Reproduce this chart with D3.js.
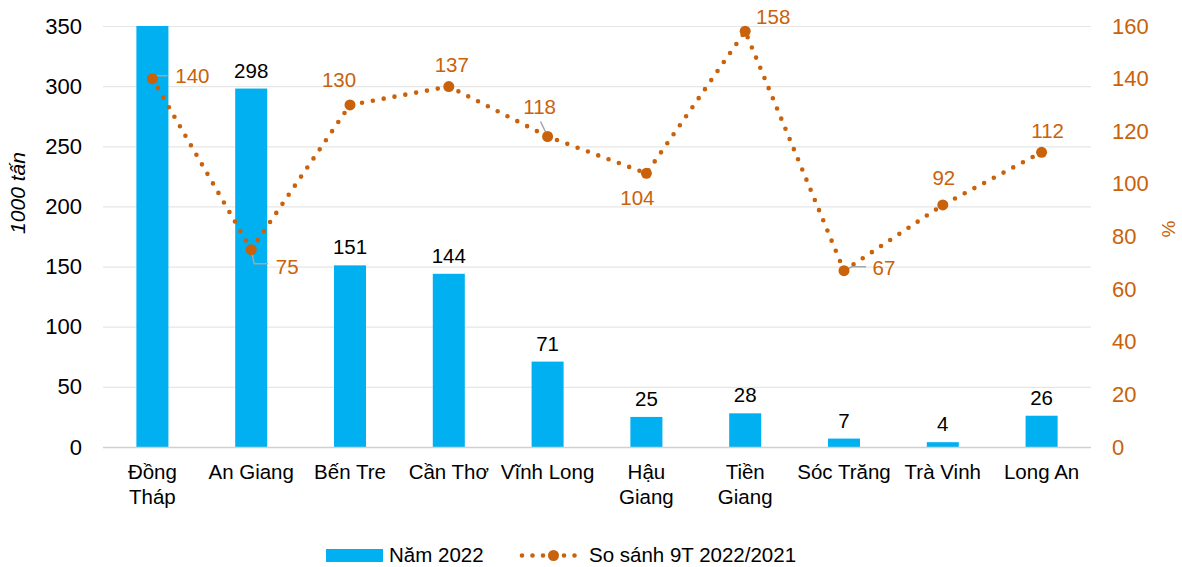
<!DOCTYPE html>
<html><head><meta charset="utf-8">
<script src="https://cdn.jsdelivr.net/npm/d3@7"></script>
<style>body{margin:0;background:#fff;font-family:Arial,"Liberation Sans",sans-serif;}</style>
</head><body><svg id="c" width="1182" height="567"></svg>
<script>
const categories = ["Đồng Tháp","An Giang","Bến Tre","Cần Thơ","Vĩnh Long","Hậu Giang","Tiền Giang","Sóc Trăng","Trà Vinh","Long An"];
const production2022 = [352,298,151,144,71,25,28,7,4,26];
const comparePct = [140,75,130,137,118,104,158,67,92,112];
const leftTicks = [0,50,100,150,200,250,300,350];
const rightTicks = [0,20,40,60,80,100,120,140,160];

// label placement offsets from the marker (style only)
const lineLabelPos = [
  {dx:40,dy:-3,leader:[[0,0],[0,-3],[15,-3]]},
  {dx:36,dy:17,leader:[[0,0],[3,14],[17,14]]},
  {dx:-11,dy:-25},
  {dx:3,dy:-22},
  {dx:-8,dy:-30,leader:[[0,0],[-7,-15]]},
  {dx:-9,dy:24},
  {dx:28,dy:-15},
  {dx:40,dy:-3,leader:[[0,0],[8,-4],[22,-4]]},
  {dx:1,dy:-27},
  {dx:6,dy:-22}
];

const BLUE="#00B0F0", ORANGE="#C9620A";
const FONT="Arial,'Liberation Sans',sans-serif";
const svg=d3.select("#c").attr("font-family",FONT);
const m={l:103,r:1091,t:26,b:447};
const x=d3.scaleBand().domain(categories).range([m.l,m.r]).paddingInner(0.676).paddingOuter(0.338);
const y=d3.scaleLinear().domain([0,350]).range([m.b,m.t]);
const y2=d3.scaleLinear().domain([0,160]).range([m.b,m.t]);

// gridlines
svg.append("g").selectAll("line").data(leftTicks.slice(1)).join("line")
 .attr("x1",m.l).attr("x2",m.r).attr("y1",d=>y(d)+0.5).attr("y2",d=>y(d)+0.5)
 .attr("stroke","#e6e6e6").attr("stroke-width",1.2);

// left axis
const ga=svg.append("g").attr("transform",`translate(${m.l},0)`)
 .call(d3.axisLeft(y).tickValues(leftTicks).tickSize(0).tickPadding(21));
ga.select(".domain").remove();
ga.selectAll("text").attr("font-size",22).attr("fill","#000").attr("font-family",FONT);

// right axis
const gr=svg.append("g").attr("transform",`translate(${m.r},0)`)
 .call(d3.axisRight(y2).tickValues(rightTicks).tickSize(0).tickPadding(21));
gr.select(".domain").remove();
gr.selectAll("text").attr("font-size",22).attr("fill",ORANGE).attr("font-family",FONT);

// bars
svg.append("g").selectAll("rect").data(categories).join("rect")
 .attr("x",d=>x(d)).attr("width",x.bandwidth())
 .attr("y",(d,i)=>y(Math.min(production2022[i],350)))
 .attr("height",(d,i)=>m.b-y(Math.min(production2022[i],350)))
 .attr("fill",BLUE);

// bar labels (values beyond the axis max are not labelled)
svg.append("g").selectAll("text").data(categories).join("text")
 .filter((d,i)=>production2022[i]<=350)
 .attr("x",d=>x(d)+x.bandwidth()/2)
 .attr("y",d=>y(production2022[categories.indexOf(d)])-11)
 .attr("text-anchor","middle").attr("font-size",20.5).attr("fill","#000")
 .text(d=>production2022[categories.indexOf(d)]);

// bottom axis line
svg.append("line").attr("x1",m.l).attr("x2",m.r).attr("y1",m.b+0.5).attr("y2",m.b+0.5)
 .attr("stroke","#d0d0d0").attr("stroke-width",1.5);

// category labels
const wrapMap={"Đồng Tháp":["Đồng","Tháp"],"Hậu Giang":["Hậu","Giang"],"Tiền Giang":["Tiền","Giang"]};
const cl=svg.append("g").selectAll("text").data(categories).join("text")
 .attr("x",d=>x(d)+x.bandwidth()/2).attr("y",479)
 .attr("text-anchor","middle").attr("font-size",20.5).attr("fill","#000");
cl.each(function(d){
  const lines=wrapMap[d]||[d];
  const t=d3.select(this);
  lines.forEach((s,k)=>t.append("tspan").attr("x",x(d)+x.bandwidth()/2).attr("dy",k?25:0).text(s));
});

// line
const cx=d=>x(d)+x.bandwidth()/2;
const line=d3.line().x((d,i)=>cx(categories[i])).y(d=>y2(d));
svg.append("path").datum(comparePct).attr("d",line).attr("fill","none")
 .attr("stroke",ORANGE).attr("stroke-width",4.6).attr("stroke-linecap","round").attr("stroke-dasharray","0 11");

// leaders
const lg=svg.append("g");
comparePct.forEach((v,i)=>{
  const p=lineLabelPos[i];
  if(p.leader){
    const px=cx(categories[i]), py=y2(v);
    lg.append("path").attr("d",d3.line()(p.leader.map(q=>[px+q[0],py+q[1]])))
     .attr("fill","none").attr("stroke","#a6a6a6").attr("stroke-width",1.5);
  }
});
// markers
svg.append("g").selectAll("circle").data(comparePct).join("circle")
 .attr("cx",(d,i)=>cx(categories[i])).attr("cy",d=>y2(d)).attr("r",5.5).attr("fill",ORANGE);
// line labels
svg.append("g").selectAll("text").data(comparePct).join("text")
 .attr("x",(d,i)=>cx(categories[i])+lineLabelPos[i].dx)
 .attr("y",(d,i)=>y2(d)+lineLabelPos[i].dy)
 .attr("dy","0.36em")
 .attr("text-anchor","middle").attr("font-size",20.5).attr("fill",ORANGE).text(d=>d);

// axis titles
svg.append("text").attr("transform","translate(25,193) rotate(-90)").attr("text-anchor","middle")
 .attr("font-size",21).attr("font-style","italic").attr("fill","#000").text("1000 tấn");
svg.append("text").attr("transform","translate(1175,229) rotate(-90)").attr("text-anchor","middle")
 .attr("font-size",19).attr("fill",ORANGE).text("%");

// legend
const L=svg.append("g");
L.append("rect").attr("x",326).attr("y",549).attr("width",57).attr("height",13).attr("fill",BLUE);
L.append("text").attr("x",389).attr("y",562).attr("font-size",20.5).attr("fill","#000").text("Năm 2022");
L.append("line").attr("x1",522).attr("x2",585).attr("y1",555.5).attr("y2",555.5)
 .attr("stroke",ORANGE).attr("stroke-width",4.6).attr("stroke-linecap","round").attr("stroke-dasharray","0 10.5");
L.append("circle").attr("cx",553.5).attr("cy",555.5).attr("r",5.5).attr("fill",ORANGE);
L.append("text").attr("x",589).attr("y",562).attr("font-size",20.5).attr("fill","#000").text("So sánh 9T 2022/2021");
</script></body></html>
